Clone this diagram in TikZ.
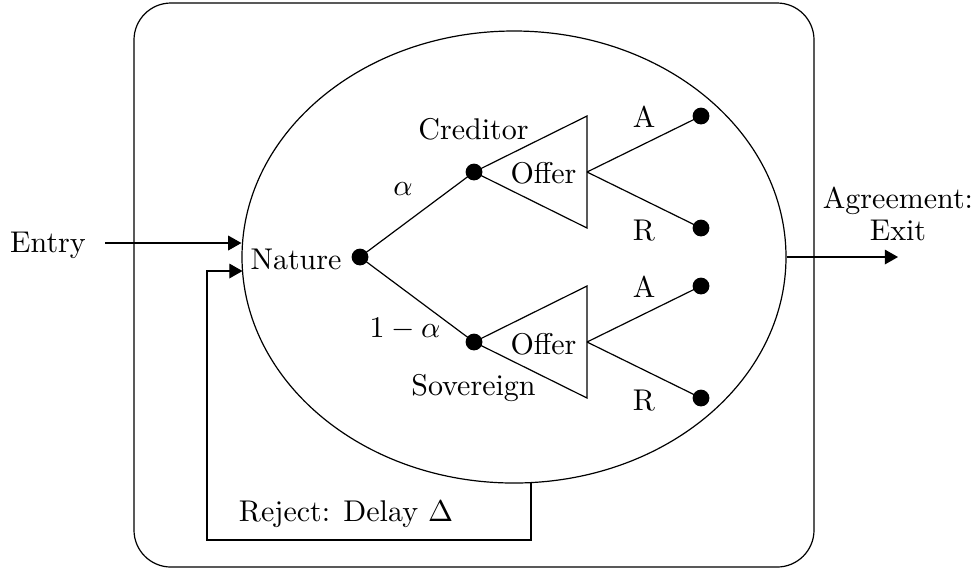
\documentclass[tikz,border=0pt]{standalone}
\usetikzlibrary{arrows.meta,shapes.geometric}
\begin{document}
\begin{tikzpicture}[x=0.33333pt,y=-0.33333pt,
  dot/.style={circle,fill=black,inner sep=0pt,minimum size=5.6pt},
  lbl/.style={inner sep=0pt,anchor=base},
  arr/.style={-{Triangle[length=4.4pt,width=4.9pt]}},
  tri/.style={draw,line join=miter}]
\useasboundingbox (0,0) rectangle (980,569);
% frame
\draw[rounded corners=12.3pt] (134,3) rectangle (814,567);
% ellipse
\node[draw,ellipse,inner sep=0pt,minimum width=181.33pt,minimum height=150.67pt] (E) at (514,257) {};
% tree points
\coordinate (ct) at (587,116);
\coordinate (cb) at (587,228);
\coordinate (cm) at (587,172);
\coordinate (st) at (587,286);
\coordinate (sb) at (587,398);
\coordinate (sm) at (587,342);
\node[dot] (nat) at (360,257) {};
\node[dot] (cred) at (474,172) {};
\node[dot] (sov) at (474,342) {};
\node[dot] (ca) at (701,116) {};
\node[dot] (cr) at (701,228) {};
\node[dot] (sa) at (701,286) {};
\node[dot] (sr) at (701,398) {};
% edges
\draw (nat.center) -- (cred.center);
\draw (nat.center) -- (sov.center);
\draw[tri] (cred.center) -- (ct) -- (cb) -- cycle;
\draw[tri] (sov.center) -- (st) -- (sb) -- cycle;
\draw (cm) -- (ca.center);
\draw (cm) -- (cr.center);
\draw (sm) -- (sa.center);
\draw (sm) -- (sr.center);
% labels
\node[lbl] (tEntry) at (48,252) {Entry};
\node[lbl] (tNat) at (296,269) {Nature};
\node[lbl] (tCred) at (473.5,139) {Creditor};
\node[lbl] (tOff1) at (543.5,183) {Offer};
\node[lbl] (tOff2) at (543.5,354) {Offer};
\node[lbl] (tAl) at (403,195) {$\alpha$};
\node[lbl] (tAl2) at (405,337) {$1-\alpha$};
\node[lbl] (tSov) at (473.5,395) {Sovereign};
\node[lbl] (tA1) at (644,127) {A};
\node[lbl] (tR1) at (644,240) {R};
\node[lbl] (tA2) at (644,297) {A};
\node[lbl] (tR2) at (644,410) {R};
\node[lbl] (tRej) at (346,521) {Reject: Delay $\Delta$};
\node[inner sep=0pt,align=center,font=\fontsize{10}{10.67}\selectfont] (tAgr) at (898,214) {Agreement:\\Exit};
% connectors
\coordinate (entryStart) at (105,243);
\draw[arr] (entryStart) -- (entryStart -| E.west);
\coordinate (rejStart) at (531,482.6);
\coordinate (loopR) at (531,540);
\coordinate (loopL) at (207,540);
\coordinate (loopIn) at (242.5,271);
\draw[arr] (rejStart) -- (loopR) -- (loopL) |- (loopIn);
\coordinate (exitEnd) at (898,257);
\draw[arr] (E.east) -- (exitEnd);
\end{tikzpicture}
\end{document}
